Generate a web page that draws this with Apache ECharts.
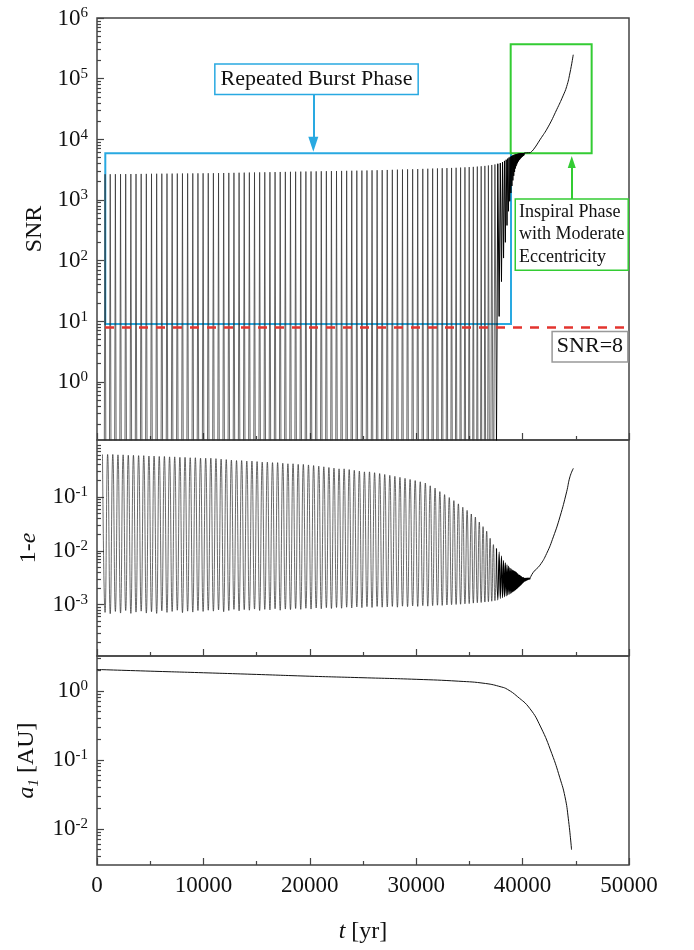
<!DOCTYPE html>
<html>
<head>
<meta charset="utf-8">
<script src="https://cdn.jsdelivr.net/npm/echarts@6.0.0/dist/echarts.min.js"></script>
<style>
  html, body { margin: 0; background: #fff; }
  #chart { width: 694px; height: 950px; }
</style>
</head>
<body>
<div id="chart"></div>
<script>
// times of the 1-e maxima (yr); the bursts sit between two maxima
const maxT = [
  515, 1000, 1485, 1970, 2455, 2940, 3425, 3910, 4395, 4880, 5365, 5850, 6335, 6820, 7305, 7790, 8275, 8760, 9245, 9730, 10215,
  10698, 11181, 11664, 12147, 12630, 13113, 13596, 14079, 14562, 15045, 15528, 16011, 16494, 16977, 17460, 17943, 18426, 18909, 19392, 19875, 20358, 20841,
  21318, 21795, 22272, 22749, 23226, 23703, 24180, 24657, 25134, 25611, 26088, 26565, 27042, 27519, 27996, 28473, 28950, 29427, 29904, 30381, 30858,
  31318, 31773, 32223, 32668, 33108, 33540, 33964, 34379, 34784, 35178, 35560, 35929, 36284, 36624, 36948, 37255, 37545,
  37795, 38015, 38210, 38382, 38534, 38669, 38789, 38897, 38995, 39085, 39168, 39245, 39317, 39385, 39449, 39510, 39568, 39624, 39678, 39730,
  39780, 39828, 39874, 39919, 39963, 40006, 40048, 40089, 40129, 40169, 40208, 40247, 40285, 40323, 40360, 40397, 40433, 40469, 40504, 40539,
  40573, 40607, 40640, 40673, 40705
];
// 1-e at each maximum
const eccMax = [
  0.61, 0.61, 0.61, 0.60, 0.60, 0.59, 0.59, 0.58, 0.58, 0.57, 0.57, 0.56, 0.56, 0.55, 0.55, 0.54, 0.54, 0.53, 0.53, 0.52, 0.52,
  0.52, 0.51, 0.50, 0.49, 0.48, 0.47, 0.47, 0.46, 0.46, 0.45, 0.44, 0.44, 0.43, 0.43, 0.42, 0.41, 0.41, 0.40, 0.40, 0.39, 0.38, 0.37,
  0.36, 0.35, 0.34, 0.33, 0.33, 0.32, 0.31, 0.30, 0.29, 0.29, 0.28, 0.27, 0.26, 0.25, 0.24, 0.23, 0.22, 0.21, 0.20, 0.19, 0.18,
  0.16, 0.145, 0.125, 0.11, 0.097, 0.085, 0.074, 0.064, 0.056, 0.048, 0.042, 0.034, 0.028, 0.023, 0.017, 0.013, 0.011,
  0.0095, 0.0080, 0.0066, 0.0060, 0.0055, 0.0052, 0.0049, 0.0047, 0.0045, 0.0044, 0.0043, 0.0042, 0.0041, 0.0040, 0.0039, 0.0038, 0.0037, 0.0036, 0.0035, 0.0035,
  0.0034, 0.0034, 0.0033, 0.0033, 0.0032, 0.0032, 0.0032, 0.0032, 0.0031, 0.0031, 0.0031, 0.0031, 0.0031, 0.0031, 0.0031, 0.0031, 0.0031, 0.0031, 0.0031, 0.0031,
  0.0031, 0.0031, 0.0031, 0.0031, 0.0031
];
// 1-e at each burst (pericentre)
const eccMin = [
  7.2e-4, 6.8e-4, 7.5e-4, 7.0e-4, 7.8e-4, 6.9e-4, 7.3e-4, 7.6e-4, 7.0e-4, 7.4e-4, 6.9e-4, 7.7e-4, 7.2e-4, 7.5e-4, 7.9e-4, 7.1e-4, 7.6e-4, 7.3e-4, 7.8e-4, 7.5e-4, 7.9e-4,
  7.6e-4, 8.0e-4, 7.4e-4, 7.8e-4, 8.2e-4, 7.7e-4, 8.1e-4, 7.9e-4, 8.3e-4, 7.8e-4, 8.2e-4, 8.0e-4, 8.4e-4, 7.9e-4, 8.3e-4, 8.1e-4, 8.5e-4, 8.2e-4, 8.6e-4, 8.3e-4, 8.7e-4, 8.4e-4,
  8.8e-4, 8.5e-4, 8.9e-4, 8.6e-4, 9.0e-4, 8.7e-4, 9.1e-4, 8.8e-4, 9.2e-4, 8.9e-4, 9.3e-4, 9.0e-4, 9.1e-4, 9.3e-4, 9.0e-4, 9.4e-4, 9.2e-4, 9.5e-4, 9.3e-4, 9.6e-4, 9.4e-4,
  9.6e-4, 9.8e-4, 9.7e-4, 9.9e-4, 1.00e-3, 1.01e-3, 1.02e-3, 1.04e-3, 1.05e-3, 1.07e-3, 1.09e-3, 1.10e-3, 1.12e-3, 1.14e-3, 1.16e-3, 1.19e-3, 1.22e-3,
  1.30e-3, 1.35e-3, 1.40e-3, 1.45e-3, 1.50e-3, 1.55e-3, 1.60e-3, 1.65e-3, 1.70e-3, 1.75e-3, 1.80e-3, 1.85e-3, 1.90e-3, 1.95e-3, 2.00e-3, 2.05e-3, 2.10e-3, 2.15e-3, 2.20e-3, 2.25e-3,
  2.30e-3, 2.35e-3, 2.40e-3, 2.45e-3, 2.50e-3, 2.55e-3, 2.60e-3, 2.65e-3, 2.70e-3, 2.72e-3, 2.75e-3, 2.78e-3, 2.80e-3, 2.83e-3, 2.85e-3, 2.88e-3, 2.90e-3, 2.92e-3, 2.94e-3, 2.96e-3,
  2.97e-3, 2.98e-3, 2.99e-3, 3.00e-3
];
// SNR at each burst
const snrPeak = [
  2650, 2655, 2660, 2665, 2670, 2675, 2680, 2685, 2690, 2700, 2705, 2710, 2715, 2720, 2725, 2730, 2735, 2740, 2745, 2750, 2755,
  2760, 2770, 2780, 2790, 2800, 2810, 2820, 2830, 2840, 2850, 2860, 2870, 2880, 2890, 2900, 2910, 2920, 2930, 2940, 2950, 2960, 2970,
  2980, 2990, 3000, 3010, 3020, 3030, 3040, 3050, 3060, 3080, 3090, 3100, 3120, 3140, 3160, 3180, 3200, 3210, 3230, 3250, 3270,
  3290, 3310, 3330, 3350, 3370, 3390, 3420, 3450, 3480, 3510, 3550, 3590, 3640, 3700, 3770, 3850, 3950,
  4050, 4200, 4400, 4600, 4800, 5000, 5150, 5300, 5400, 5480, 5550, 5600, 5650, 5700, 5730, 5760, 5790, 5810, 5830, 5850,
  5860, 5870, 5880, 5890, 5900, 5910, 5920, 5930, 5940, 5950, 5955, 5960, 5965, 5970, 5975, 5980, 5985, 5990, 5992, 5994,
  5996, 5998, 6000, 6000
];
// SNR between bursts (at the 1-e maxima) for the last cycles; earlier ones lie far below the axis
const SNR_OFF = 1e-12;
const snrApoTail = [
  1e-8, 1e-5, 1e-3, 0.08,
  12, 45, 110, 200, 380, 650, 950, 1300, 1700, 2100, 2500, 2900, 3300, 3600, 3850, 4050, 4250, 4400, 4550, 4680,
  4800, 4900, 5000, 5100, 5180, 5260, 5330, 5400, 5460, 5520, 5570, 5620, 5670, 5710, 5750, 5790, 5820, 5850, 5870, 5890,
  5910, 5930, 5950, 5970, 5990
];
// inspiral phase
const snrInspT = [41000, 41630, 42400, 43200, 43800, 44140, 44450, 44760];
const snrInsp = [6700, 9800, 16000, 30700, 52000, 74000, 124000, 248000];
const eccInspT = [41010, 41630, 42260, 42890, 43510, 44140, 44450, 44770];
const eccInsp = [0.0040, 0.0054, 0.0089, 0.0181, 0.0425, 0.124, 0.235, 0.337];
// semi-major axis
const aT = [0, 5000, 10000, 15000, 20000, 25000, 30000, 34000, 36500, 38000, 38580, 39500, 40660, 41700, 42740, 43500, 43980, 44300, 44600];
const aVal = [2.04, 1.93, 1.83, 1.73, 1.63, 1.55, 1.47, 1.38, 1.28, 1.14, 1.05, 0.83, 0.56, 0.30, 0.124, 0.055, 0.0294, 0.014, 0.005];

// axis ranges and labelled decades
const snrRange = [0.11, 1e6];
const eccRange = [1.12e-4, 1.13];
const aRange = [3.0e-3, 3.2];
const snrDecades = [0, 1, 2, 3, 4, 5, 6];
const eccDecades = [-3, -2, -1];
const aDecades = [-2, -1, 0];
const DENSE_FROM = 37545; // cycles crowd together after this time

const FONT = '"Liberation Serif", "DejaVu Serif", serif';
const BLUE = '#29a9e1';
const GREEN = '#33cc33';
const RED = '#e3342f';
const INK = '#111';
const TRACE = '#2a2a2a';

const burstT = maxT.slice(1).map((t, i) => (maxT[i] + t) / 2);
const apoStart = maxT.length - snrApoTail.length;

const snrData = [];
const eccData = [];
maxT.forEach((t, i) => {
  snrData.push([t, i >= apoStart ? snrApoTail[i - apoStart] : SNR_OFF]);
  eccData.push([t, eccMax[i]]);
  if (i < burstT.length) {
    snrData.push([burstT[i], snrPeak[i]]);
    eccData.push([burstT[i], eccMin[i]]);
  }
});
const snrSparse = snrData.filter(p => p[0] <= DENSE_FROM);
const snrDense = snrData.filter(p => p[0] >= DENSE_FROM);
const eccSparse = eccData.filter(p => p[0] <= DENSE_FROM);
const eccDense = eccData.filter(p => p[0] >= DENSE_FROM);
// the inspiral tails continue from the last cycle point
const snrTail = [snrData[snrData.length - 1]].concat(snrInspT.map((t, i) => [t, snrInsp[i]]));
const eccTail = [eccData[eccData.length - 1]].concat(eccInspT.map((t, i) => [t, eccInsp[i]]));
const aData = aT.map((t, i) => [t, aVal[i]]);

const lg = Math.log10;
const minorTicks = (range) => {
  const out = [];
  for (let d = Math.floor(lg(range[0])); d <= Math.ceil(lg(range[1])); d++) {
    for (let m = 2; m <= 9; m++) {
      const v = lg(m) + d;
      if (v > lg(range[0]) && v < lg(range[1])) out.push(v);
    }
  }
  return out;
};

const grids = [
  { left: 97, top: 18, width: 532, height: 422 },
  { left: 97, top: 440, width: 532, height: 216 },
  { left: 97, top: 656, width: 532, height: 209 },
].map(g => Object.assign(g, { show: true, borderColor: '#444', borderWidth: 1.5 }));

const tickStyle = { color: '#444', width: 1.2 };
const nameRich = {
  n: { fontSize: 24, fontFamily: FONT, color: INK, lineHeight: 30 },
  i: { fontSize: 24, fontFamily: FONT, color: INK, fontStyle: 'italic', lineHeight: 30 },
  sub: { fontSize: 15, fontFamily: FONT, color: INK, fontStyle: 'italic', lineHeight: 15, verticalAlign: 'bottom' },
};

const xAxes = [0, 1, 2].map(i => ({
  gridIndex: i,
  type: 'value',
  min: 0,
  max: 50000,
  interval: 10000,
  axisLine: { show: false, onZero: false },
  splitLine: { show: false },
  axisTick: { inside: true, length: 7, lineStyle: tickStyle },
  minorTick: { show: true, splitNumber: 2, length: 4, lineStyle: tickStyle },
  axisLabel: { show: i === 2, margin: 9, fontSize: 23, fontFamily: FONT, color: INK, formatter: v => String(v) },
  name: i === 2 ? '{i|t}{n| [yr]}' : '',
  nameLocation: 'middle',
  nameGap: 52,
  nameTextStyle: { rich: nameRich },
}));

const panels = [
  { range: snrRange, decades: snrDecades, name: '{n|SNR}', gap: 47 },
  { range: eccRange, decades: eccDecades, name: '{n|1-}{i|e}', gap: 53 },
  { range: aRange, decades: aDecades, name: '{i|a}{sub|1}{n| [AU]}', gap: 52 },
];

const yAxes = [];
panels.forEach((p, i) => {
  // data axis
  yAxes.push({ gridIndex: i, type: 'log', position: 'left', min: p.range[0], max: p.range[1], show: false });
  // decade ticks and labels
  yAxes.push({
    gridIndex: i, type: 'value', position: 'left',
    min: lg(p.range[0]), max: lg(p.range[1]),
    axisLine: { show: false, onZero: false },
    splitLine: { show: false },
    axisTick: { inside: true, length: 7, lineStyle: tickStyle, customValues: p.decades },
    axisLabel: {
      customValues: p.decades,
      margin: 9,
      formatter: v => '{b|10}{s|' + v + '}',
      rich: {
        b: { fontSize: 23, fontFamily: FONT, color: INK, lineHeight: 24, verticalAlign: 'bottom' },
        s: { fontSize: 15, fontFamily: FONT, color: INK, lineHeight: 20, verticalAlign: 'top' },
      },
    },
    name: p.name,
    nameLocation: 'middle',
    nameRotate: 90,
    nameGap: p.gap,
    nameTextStyle: { rich: nameRich },
  });
  // log minor ticks
  yAxes.push({
    gridIndex: i, type: 'value', position: 'left',
    min: lg(p.range[0]), max: lg(p.range[1]),
    axisLine: { show: false, onZero: false },
    splitLine: { show: false },
    axisTick: { inside: true, length: 4, lineStyle: tickStyle, customValues: minorTicks(p.range) },
    axisLabel: { show: false },
  });
});

const trace = (xi, yi, data, style, extra) => Object.assign({
  type: 'line', xAxisIndex: xi, yAxisIndex: yi, data: data, symbol: 'none', lineStyle: style,
}, extra || {});

const chart = echarts.init(document.getElementById('chart'));
chart.setOption({
  animation: false,
  backgroundColor: '#fff',
  grid: grids,
  xAxis: xAxes,
  yAxis: yAxes,
  series: [
    trace(0, 0, snrSparse, { color: TRACE, width: 0.7 }, {
      markArea: {
        silent: true,
        itemStyle: { color: 'rgba(0,0,0,0)', borderWidth: 2 },
        data: [
          [{ coord: [780, 5900], itemStyle: { borderColor: BLUE } }, { coord: [38910, 9.0] }],
          [{ coord: [38880, 3.7e5], itemStyle: { borderColor: GREEN } }, { coord: [46490, 5900] }],
        ],
      },
      markLine: {
        silent: true,
        symbol: ['none', 'none'],
        label: { show: false },
        data: [
          [{ coord: [0, 8], lineStyle: { color: RED, width: 2.5, type: [9, 8], dashOffset: 9 } }, { coord: [50000, 8] }],
          [{ coord: [20330, 54000], lineStyle: { color: BLUE, width: 2, type: 'solid' } },
           { coord: [20330, 8260], symbol: 'triangle', symbolSize: [10, 15] }],
          [{ coord: [44620, 1030], lineStyle: { color: GREEN, width: 2, type: 'solid' } },
           { coord: [44620, 4210], symbol: 'triangle', symbolSize: [8, 12] }],
        ],
      },
      markPoint: {
        silent: true,
        symbol: 'rect',
        symbolSize: 1,
        itemStyle: { color: 'rgba(0,0,0,0)' },
        label: {
          show: true, position: 'inside', color: INK, fontFamily: FONT,
          backgroundColor: '#fff', borderWidth: 1.5,
        },
        data: [
          { coord: [20630, 9.8e4], label: { formatter: 'Repeated Burst Phase', fontSize: 22, borderColor: BLUE, padding: [4, 5, 3, 5] } },
          { coord: [39380, 268], label: { formatter: 'Inspiral Phase\nwith Moderate\nEccentricity', align: 'left', fontSize: 18, lineHeight: 22.3, borderColor: GREEN, padding: [2, 3, 1, 3] } },
          { coord: [46330, 3.81], label: { formatter: 'SNR=8', fontSize: 22, borderColor: '#999', padding: [4, 4, 3, 4] } },
        ],
      },
    }),
    trace(0, 0, snrDense, { color: '#000', width: 1 }),
    trace(0, 0, snrTail, { color: INK, width: 1 }, { smooth: true }),
    trace(1, 3, eccSparse, { color: TRACE, width: 0.7 }, { smooth: true }),
    trace(1, 3, eccDense, { color: '#000', width: 1.1 }, { smooth: true }),
    trace(1, 3, eccTail, { color: INK, width: 1 }, { smooth: true }),
    trace(2, 6, aData, { color: INK, width: 1 }, { smooth: true }),
  ],
});
window.addEventListener('resize', () => chart.resize());
</script>
</body>
</html>
